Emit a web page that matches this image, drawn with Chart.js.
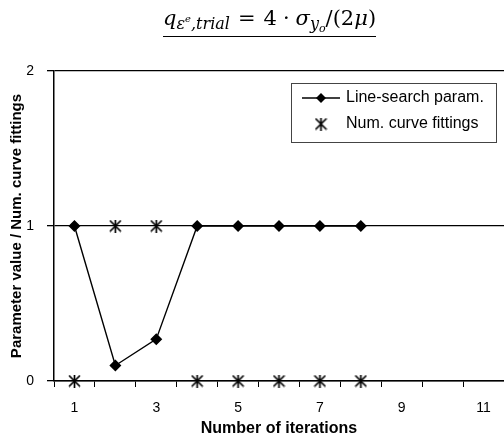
<!DOCTYPE html>
<html>
<head>
<meta charset="utf-8">
<script src="https://cdn.jsdelivr.net/npm/chart.js@4/dist/chart.umd.min.js"></script>
<style>
  html, body { margin: 0; padding: 0; background: #fff; overflow: hidden; }
  #wrap { position: relative; width: 511px; height: 441px; }
  #formula {
    position: absolute; left: 163px; top: 5px; display: inline-block;
    font-family: "DejaVu Serif", "Liberation Serif", serif;
    font-size: 21px; color: #000; white-space: nowrap;
    border-bottom: 1.3px solid #000; line-height: 26px; height: 31px;
  }
  #formula sub { font-size: 16px; vertical-align: -4px; }
  #formula sub sup { font-size: 10px; vertical-align: 7px; }
  #formula sub sub { font-size: 11px; vertical-align: -3px; }
  #formula .op { margin: 0 8px; }
  #formula .dot { margin: 0 6px; }
</style>
</head>
<body>
<div id="wrap">
  <canvas id="chart" width="511" height="441"></canvas>
  <div id="formula"><i>q</i><sub><i>ε</i><sup><i>e</i></sup><i>,trial</i></sub><span class="op">=</span>4<span class="dot">·</span><i>σ</i><sub><i>y</i><sub><i>o</i></sub></sub>/(2<i>μ</i>)</div>
</div>
<script>
// iterations on the x axis, one category each
const iterations = ['1', '2', '3', '4', '5', '6', '7', '8', '9', '10', '11'];
// line-search parameter per iteration
const lineSearch = [1, 0.1, 0.27, 1, 1, 1, 1, 1];
// number of curve fittings per iteration
const curveFits = [0, 1, 1, 0, 0, 0, 0, 0];
// only every other iteration gets a label
const shownTicks = ['1', '3', '5', '7', '9', '11'];

const FONT = '"Liberation Sans", Arial, sans-serif';

// asterisk-like marker: an X with a vertical bar
function starMarker(size) {
  const c = document.createElement('canvas');
  c.width = size; c.height = size;
  const g = c.getContext('2d');
  g.strokeStyle = '#000'; g.lineWidth = 1.7;
  g.beginPath();
  g.moveTo(1, 1); g.lineTo(size - 1, size - 1);
  g.moveTo(size - 1, 1); g.lineTo(1, size - 1);
  g.moveTo(size / 2, 0); g.lineTo(size / 2, size);
  g.stroke();
  return c;
}
const STAR = starMarker(13);

// boxed legend in the upper right corner
const boxLegend = {
  id: 'boxLegend',
  afterDraw(chart) {
    const ctx = chart.ctx;
    ctx.save();
    ctx.fillStyle = '#fff';
    ctx.fillRect(291, 83, 205, 59);
    ctx.strokeStyle = '#444'; ctx.lineWidth = 1;
    ctx.strokeRect(291.5, 83.5, 205, 59);

    ctx.strokeStyle = '#000'; ctx.lineWidth = 1.4;
    ctx.beginPath(); ctx.moveTo(302, 98); ctx.lineTo(340, 98); ctx.stroke();
    ctx.fillStyle = '#000';
    ctx.beginPath();
    ctx.moveTo(321, 93); ctx.lineTo(326, 98); ctx.lineTo(321, 103); ctx.lineTo(316, 98);
    ctx.closePath(); ctx.fill();
    ctx.drawImage(STAR, 321 - 6.5, 124 - 6.5);

    ctx.font = '16px ' + FONT;
    ctx.textBaseline = 'middle';
    ctx.fillText('Line-search param.', 346, 98);
    ctx.fillText('Num. curve fittings', 346, 124);
    ctx.restore();
  }
};

new Chart(document.getElementById('chart'), {
  type: 'line',
  data: {
    labels: iterations,
    datasets: [
      { label: 'Line-search param.', data: lineSearch, clip: false,
        borderColor: '#000', backgroundColor: '#000', borderWidth: 1.4,
        pointStyle: 'rectRot', pointRadius: 5, pointHoverRadius: 5, tension: 0 },
      { label: 'Num. curve fittings', data: curveFits, showLine: false, clip: false,
        pointStyle: STAR, pointRadius: 6, pointHoverRadius: 6 },
    ]
  },
  options: {
    responsive: false,
    animation: false,
    events: [],
    layout: { padding: { top: 71, right: 0, left: 0, bottom: 0 } },
    plugins: { legend: { display: false }, tooltip: { enabled: false } },
    scales: {
      x: {
        offset: true,
        grid: { offset: true, drawOnChartArea: false, tickLength: 6, color: '#000', lineWidth: 1 },
        border: { color: '#000', width: 1.5 },
        ticks: {
          autoSkip: false, maxRotation: 0, color: '#000', padding: 13,
          font: { family: FONT, size: 14 },
          callback(v) { const l = this.getLabelForValue(v); return shownTicks.includes(l) ? l : ''; }
        },
        title: { display: true, text: 'Number of iterations', color: '#000',
          font: { family: FONT, size: 16, weight: 'bold' }, padding: { top: 0, bottom: 3 } },
        afterFit(s) { s.height = 60; }
      },
      y: {
        min: 0, max: 2,
        grid: { color: '#000', lineWidth: 1.3, tickLength: 7 },
        border: { color: '#000', width: 1.5 },
        ticks: { stepSize: 1, color: '#000', padding: 13, font: { family: FONT, size: 14 } },
        title: { display: true, text: 'Parameter value / Num. curve fittings', color: '#000',
          font: { family: FONT, size: 15, weight: 'bold' }, padding: { top: 8, bottom: 0 } },
        afterFit(s) { s.width = 54; }
      }
    }
  },
  plugins: [boxLegend]
});
</script>
</body>
</html>
